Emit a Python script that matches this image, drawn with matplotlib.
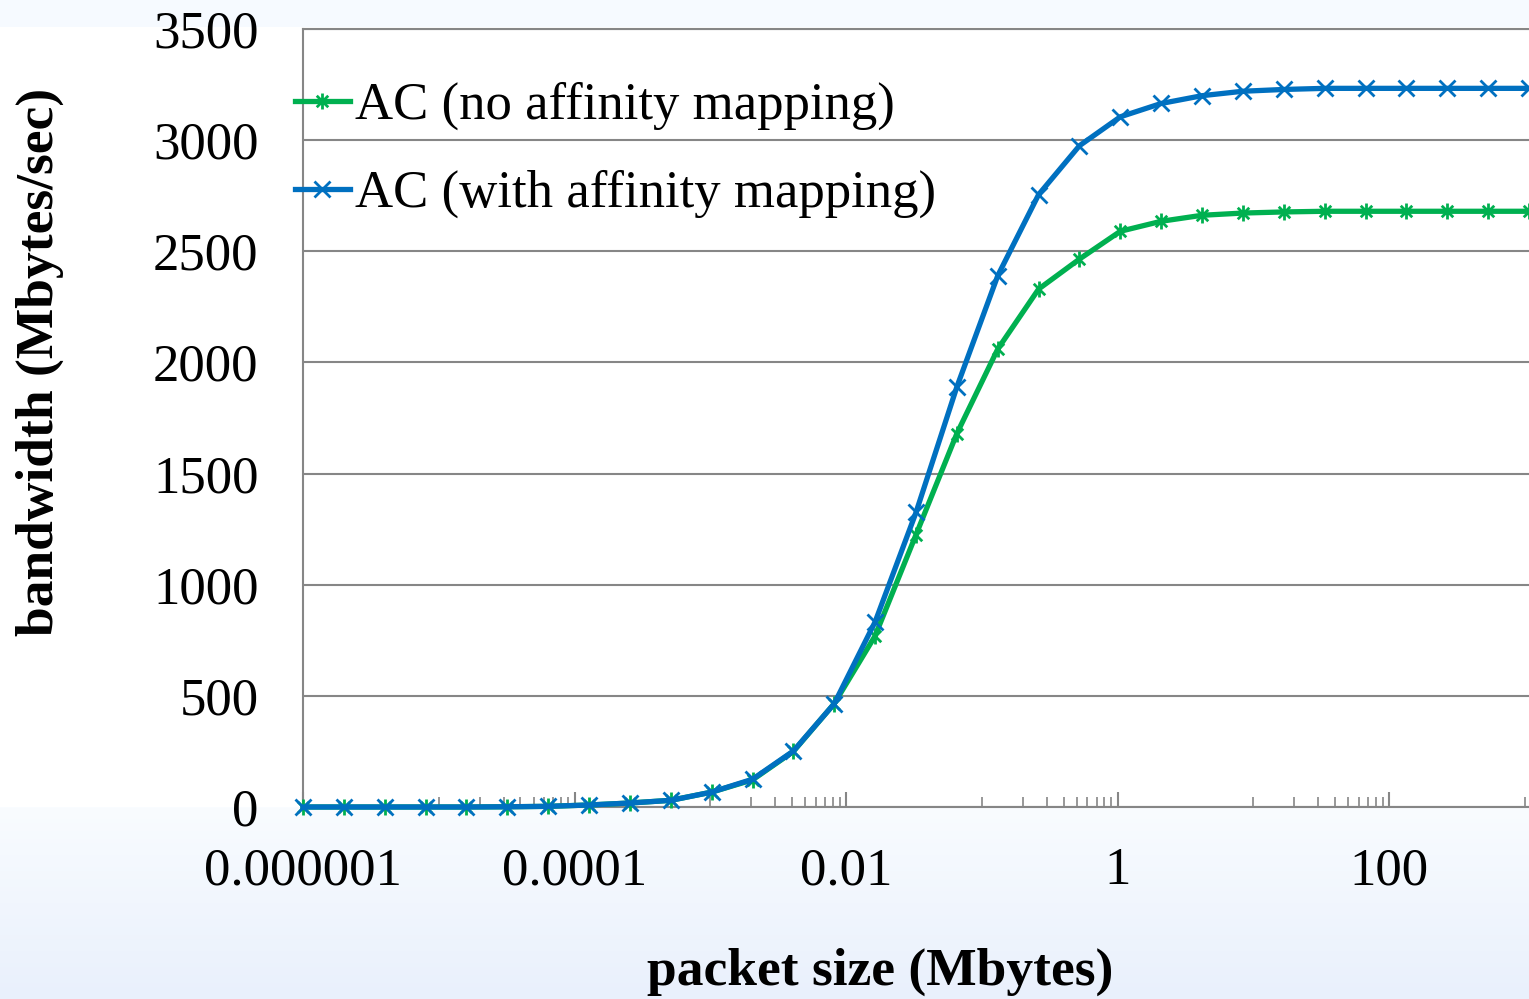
import matplotlib
matplotlib.use('Agg')
import matplotlib.pyplot as plt
from matplotlib.path import Path
from matplotlib.ticker import FixedLocator, NullFormatter, FixedFormatter
import numpy as np

plt.rcParams['font.family'] = ['Liberation Serif', 'DejaVu Serif']

# data: packet size (bytes) vs bandwidth (Mbytes/sec)
packet_bytes = [1, 2, 4, 8, 16, 32, 64, 128, 256, 512, 1024, 2048, 4096, 8192,
                16384, 32768, 65536, 131072, 262144, 524288, 1048576, 2097152,
                4194304, 8388608, 16777216, 33554432, 67108864, 134217728,
                268435456, 536870912, 1073741824]
bw_no_affinity = [0, 0, 0, 0, 0, 1, 3, 9, 18, 30, 67, 122, 250, 465, 770, 1225,
                  1680, 2060, 2330, 2465, 2590, 2635, 2662, 2672, 2677, 2680,
                  2680, 2680, 2680, 2680, 2680]
bw_affinity = [0, 0, 0, 0, 0, 1, 3, 9, 18, 30, 67, 125, 252, 465, 833, 1325,
               1890, 2390, 2755, 2975, 3105, 3165, 3200, 3220, 3228, 3233,
               3233, 3233, 3233, 3233, 3233]
x_tick_vals = [1e-6, 1e-4, 1e-2, 1, 100]
x_tick_labels = ['0.000001', '0.0001', '0.01', '1', '100']
y_ticks = [0, 500, 1000, 1500, 2000, 2500, 3000, 3500]

packet_mb = np.array(packet_bytes) / 1e6

C_GREEN = '#00b050'
C_BLUE = '#0070c0'
C_GRID = '#868686'

# Excel style star marker (vertical bar + X)
star_path = Path([(0, -1), (0, 1), (-0.72, -0.72), (0.72, 0.72), (-0.72, 0.72), (0.72, -0.72)],
                 [Path.MOVETO, Path.LINETO, Path.MOVETO, Path.LINETO, Path.MOVETO, Path.LINETO])

W, H = 1529, 999
fig = plt.figure(figsize=(W / 100, H / 100), dpi=100)

# background: light slide gradient with white chart area
bg = fig.add_axes([0, 0, 1, 1], zorder=-10)
img = np.ones((H, 1, 3))
img[:27] = np.array([246, 250, 255]) / 255
g0 = np.array([249, 252, 255]) / 255
g1 = np.array([233, 240, 252]) / 255
t = np.linspace(0, 1, H - 807)[:, None]
img[807:, 0] = g0 * (1 - t) + g1 * t
bg.imshow(img, aspect='auto', extent=[0, 1, 0, 1], interpolation='nearest')
bg.axis('off')

ax = fig.add_axes([303 / W, (H - 807) / H, (W - 303) / W, (807 - 29) / H])
ax.set_facecolor('white')

ax.plot(packet_mb, bw_no_affinity, color=C_GREEN, linewidth=3.8, marker=star_path,
        markersize=11.5, markeredgewidth=2, label='AC (no affinity mapping)', clip_on=False, zorder=3)
ax.plot(packet_mb, bw_affinity, color=C_BLUE, linewidth=3.8, marker='x',
        markersize=11.5, markeredgewidth=2, label='AC (with affinity mapping)', clip_on=False, zorder=4)

ax.set_xscale('log')
ax.set_xlim(1e-6, packet_mb[-1])
ax.set_ylim(0, 3500)

ax.xaxis.set_major_locator(FixedLocator(x_tick_vals))
ax.xaxis.set_major_formatter(FixedFormatter(x_tick_labels))
minor = [10.0 ** e * k for e in (-5, -3, -1, 1, 3) for k in range(1, 10)]
ax.xaxis.set_minor_locator(FixedLocator(minor))
ax.xaxis.set_minor_formatter(NullFormatter())
ax.set_yticks(y_ticks)

ax.tick_params(axis='x', which='major', direction='in', length=11, width=1.5, color=C_GRID,
               labelsize=38, pad=29)
ax.tick_params(axis='x', which='minor', direction='in', length=7.5, width=1.2, color=C_GRID)
ax.tick_params(axis='y', length=0, labelsize=38, pad=32)

ax.grid(axis='y', color=C_GRID, linewidth=1.5)
ax.set_axisbelow(True)
for s in ['left', 'bottom', 'top']:
    ax.spines[s].set_color(C_GRID)
    ax.spines[s].set_linewidth(1.5)
ax.spines['right'].set_visible(False)

leg = ax.legend(loc='upper left', bbox_to_anchor=(295 / W, (H - 82) / H),
                bbox_transform=fig.transFigure, frameon=False, fontsize=38,
                handlelength=1.04, handletextpad=0.1, labelspacing=0.75, borderpad=0,
                borderaxespad=0)

fig.text(880 / W, (H - 972) / H, 'packet size (Mbytes)', fontsize=38.5, fontweight='bold',
         ha='center', va='center')
fig.text(40 / W, (H - 362) / H, 'bandwidth (Mbytes/sec)', fontsize=38.5, fontweight='bold',
         ha='center', va='center', rotation=90)

fig.savefig('out.png', dpi=100)
plt.close(fig)
